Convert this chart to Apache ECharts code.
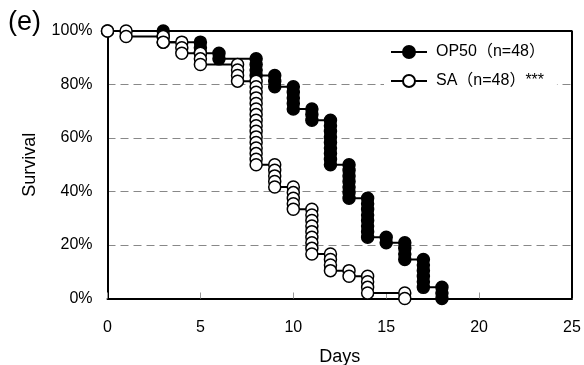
<!DOCTYPE html>
<html>
<head>
<meta charset="utf-8">
<script src="https://cdn.jsdelivr.net/npm/echarts@6/dist/echarts.min.js"></script>
<style>html,body{margin:0;padding:0;background:#fff}#c{width:584px;height:365px}</style>
</head>
<body>
<div id="c"></div>
<script>
// Group size
const groupSize = 48;
// OP50: days with deaths and number of deaths on each day
const op50Days   = [3, 5, 6, 8, 9, 10, 11, 12, 13, 14, 15, 16, 17, 18];
const op50Deaths = [2, 2, 1, 3, 2, 4,  2,  8,  6,  7,  1,  3,  5,  2];
// SA: days with deaths and number of deaths on each day
const saDays   = [1, 3, 4, 5, 7, 8,  9, 10, 11, 12, 13, 14, 16];
const saDeaths = [1, 1, 2, 2, 3, 15, 4, 4,  8,  3,  1,  3,  1];
// Axis ticks
const xTicks = [0, 5, 10, 15, 20, 25];
const yTicks = [0, 20, 40, 60, 80, 100];
const seriesNames = ['OP50（n=48）', 'SA（n=48）***'];

// Kaplan-Meier step points: one marker per individual event
function kmPoints(days, deaths) {
  let alive = groupSize;
  const pts = [[0, 100]];
  days.forEach((d, i) => {
    pts.push([d, alive / groupSize * 100]);
    for (let k = 0; k < deaths[i]; k++) {
      alive -= 1;
      pts.push([d, alive / groupSize * 100]);
    }
  });
  return pts;
}

const FONT = 'Liberation Sans, Arial, Noto Sans CJK JP, sans-serif';
const chart = echarts.init(document.getElementById('c'), null, {renderer: 'canvas'});
const axisLineStyle = {show: true, onZero: false, lineStyle: {color: '#000', width: 2}};
const xMin = xTicks[0], xMax = xTicks[xTicks.length - 1];
const yMin = yTicks[0], yMax = yTicks[yTicks.length - 1];

chart.setOption({
  animation: false,
  backgroundColor: '#fff',
  title: {
    text: '(e)', left: 8, top: 9, padding: 0,
    textStyle: {fontSize: 27, fontWeight: 'normal', color: '#000', fontFamily: FONT}
  },
  grid: {
    left: 107.5, right: 12, top: 31, bottom: 66.5,
    outerBoundsMode: 'none', containLabel: false
  },
  legend: {
    orient: 'vertical', left: 384, top: 38, z: 10,
    padding: [6, 12, 6, 6], itemGap: 13, itemWidth: 36, itemHeight: 15,
    backgroundColor: '#fff',
    textStyle: {fontSize: 16, color: '#000', fontFamily: FONT, padding: [0, 0, 0, 4]},
    data: seriesNames
  },
  xAxis: {
    type: 'value', position: 'bottom',
    min: xMin, max: xMax, interval: xTicks[1] - xTicks[0],
    axisLine: axisLineStyle,
    axisTick: {show: true, inside: true, length: 6, lineStyle: {color: '#999', width: 1}},
    axisLabel: {color: '#000', fontSize: 16, margin: 21, fontFamily: FONT},
    splitLine: {show: false},
    name: 'Days', nameLocation: 'middle', nameGap: 50,
    nameTextStyle: {fontSize: 18, color: '#000', fontFamily: FONT},
    z: 3
  },
  yAxis: {
    type: 'value', position: 'left',
    min: yMin, max: yMax, interval: yTicks[1] - yTicks[0],
    axisLine: axisLineStyle,
    axisTick: {show: false},
    axisLabel: {color: '#000', fontSize: 16, margin: 15, fontFamily: FONT, formatter: '{value}%'},
    splitLine: {show: true, showMinLine: false, showMaxLine: false,
      lineStyle: {color: '#888', width: 1, type: [8, 5]}},
    name: 'Survival', nameLocation: 'middle', nameGap: 68,
    nameTextStyle: {fontSize: 18, color: '#000', fontFamily: FONT},
    z: 2
  },
  series: [{
    // plot frame: top and right edges at the axis extents
    name: 'frame', type: 'line', clip: false, silent: true,
    data: [[xMin, yMax], [xMax, yMax], [xMax, yMin]],
    showSymbol: false, symbol: 'none',
    lineStyle: {color: '#000', width: 2},
    z: 4
  }, {
    name: seriesNames[0], type: 'line',
    data: kmPoints(op50Days, op50Deaths),
    symbol: 'circle', symbolSize: 12, showSymbol: true, showAllSymbol: true,
    lineStyle: {color: '#000', width: 2},
    itemStyle: {color: '#000', borderColor: '#000', borderWidth: 1.5},
    z: 5
  }, {
    name: seriesNames[1], type: 'line',
    data: kmPoints(saDays, saDeaths),
    symbol: 'circle', symbolSize: 12, showSymbol: true, showAllSymbol: true,
    lineStyle: {color: '#000', width: 2},
    itemStyle: {color: '#fff', borderColor: '#000', borderWidth: 1.5},
    z: 6
  }]
});
</script>
</body>
</html>
